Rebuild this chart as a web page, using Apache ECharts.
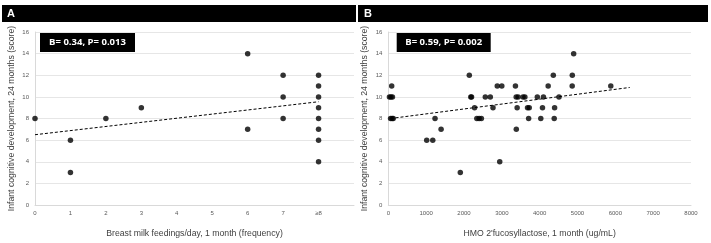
<!DOCTYPE html>
<html>
<head>
<meta charset="utf-8">
<script src="https://cdn.jsdelivr.net/npm/echarts@6/dist/echarts.min.js"></script>
<style>
  html, body { margin: 0; padding: 0; background: #fff; }
  #charts { width: 711px; height: 243px; }
</style>
</head>
<body>
<div id="charts"></div>
<script>
// panel A: feedings/day vs score
var feedX = [0, 1, 1, 2, 3, 6, 6, 7, 7, 7, 8, 8, 8, 8, 8, 8, 8, 8];
var feedY = [8, 6, 3, 8, 9, 14, 7, 12, 10, 8, 12, 11, 10, 9, 8, 7, 6, 4];
var feedTrend = [[0, 6.5], [8, 9.55]];

// panel B: 2'FL concentration vs score
var hmoX = [90, 2880, 3000, 3360, 4225, 4860, 5880,
    30, 70, 110, 2180, 2200, 2564, 2696, 3380, 3430, 3560, 3610, 3938, 4100, 4511,
    2141, 4361, 4863, 4899,
    2280, 2767, 3405, 3680, 3725, 4075, 4395,
    60, 100, 130, 1235, 2340, 2400, 2460, 3709, 4030, 4385,
    1395, 3383, 1015, 1175, 2945, 1903];
var hmoY = [11, 11, 11, 11, 11, 11, 11,
    10, 10, 10, 10, 10, 10, 10, 10, 10, 10, 10, 10, 10, 10,
    12, 12, 12, 14,
    9, 9, 9, 9, 9, 9, 9,
    8, 8, 8, 8, 8, 8, 8, 8, 8, 8,
    7, 7, 6, 6, 4, 3];
var hmoTrend = [[60, 8.0], [6380, 10.87]];

var yName = 'Infant cognitive development, 24 months (score)';

function pairs(xs, ys) {
    return xs.map(function (x, i) { return [x, ys[i]]; });
}

var tickStyle = {color: '#595959', fontSize: 6, fontFamily: 'Liberation Sans'};
var nameStyle = {color: '#404040', fontSize: 8.7, fontFamily: 'Liberation Sans'};
var gridLine = {show: true, lineStyle: {color: '#e6e6e6', width: 1}};
var axisLine = {show: true, lineStyle: {color: '#d9d9d9', width: 1}};

function yAxis(idx) {
    return {
        type: 'value', gridIndex: idx, min: 0, max: 16, interval: 2,
        axisLine: axisLine, axisTick: {show: false}, splitLine: gridLine,
        axisLabel: Object.assign({margin: 6}, tickStyle),
        name: yName, nameLocation: 'middle', nameGap: 19, nameTextStyle: nameStyle
    };
}

var option = {
    animation: false,
    grid: [
        {left: 35, top: 32, width: 319, height: 173.7},
        {left: 388.3, top: 32, width: 302.7, height: 173.7}
    ],
    xAxis: [
        {
            type: 'value', gridIndex: 0, min: 0, max: 9, interval: 1,
            axisLine: axisLine, axisTick: {show: false}, splitLine: {show: false},
            axisLabel: Object.assign({margin: 5, formatter: function (v) {
                if (v === 9) return '';
                return v === 8 ? '≥8' : String(v);
            }}, tickStyle),
            name: 'Breast milk feedings/day, 1 month (frequency)', nameLocation: 'middle',
            nameGap: 24, nameTextStyle: nameStyle
        },
        {
            type: 'value', gridIndex: 1, min: 0, max: 8000, interval: 1000,
            axisLine: axisLine, axisTick: {show: false}, splitLine: {show: false},
            axisLabel: Object.assign({margin: 5, formatter: function (v) { return String(v); }}, tickStyle),
            name: 'HMO 2\'fucosyllactose, 1 month (ug/mL)', nameLocation: 'middle',
            nameGap: 24, nameTextStyle: nameStyle
        }
    ],
    yAxis: [yAxis(0), yAxis(1)],
    series: [
        {
            type: 'scatter', xAxisIndex: 0, yAxisIndex: 0, symbolSize: 5.5,
            itemStyle: {color: '#000'}, data: pairs(feedX, feedY)
        },
        {
            type: 'line', xAxisIndex: 0, yAxisIndex: 0, symbol: 'none',
            lineStyle: {color: '#000', width: 1, type: [3, 2]}, data: feedTrend
        },
        {
            type: 'scatter', xAxisIndex: 1, yAxisIndex: 1, symbolSize: 5.5,
            itemStyle: {color: '#000'}, data: pairs(hmoX, hmoY)
        },
        {
            type: 'line', xAxisIndex: 1, yAxisIndex: 1, symbol: 'none',
            lineStyle: {color: '#000', width: 1, type: [3, 2]}, data: hmoTrend
        }
    ],
    graphic: [
        // header bars
        {type: 'rect', shape: {x: 2, y: 5, width: 354, height: 17}, style: {fill: '#000'}},
        {type: 'rect', shape: {x: 358, y: 5, width: 350, height: 17}, style: {fill: '#000'}},
        {type: 'text', x: 7, y: 13.5, style: {text: 'A', fill: '#fff', font: 'bold 11px Liberation Sans', textVerticalAlign: 'middle'}},
        {type: 'text', x: 364, y: 13.5, style: {text: 'B', fill: '#fff', font: 'bold 11px Liberation Sans', textVerticalAlign: 'middle'}},
        // stats boxes
        {type: 'rect', shape: {x: 40, y: 33, width: 95, height: 19}, style: {fill: '#000'}},
        {type: 'text', x: 87.5, y: 42.5, style: {text: 'B= 0.34, P= 0.013', fill: '#fff', font: 'bold 9.5px Open Sans', textAlign: 'center', textVerticalAlign: 'middle'}},
        {type: 'rect', shape: {x: 396.7, y: 33, width: 94, height: 19}, style: {fill: '#000'}},
        {type: 'text', x: 443.7, y: 42.5, style: {text: 'B= 0.59, P= 0.002', fill: '#fff', font: 'bold 9.5px Open Sans', textAlign: 'center', textVerticalAlign: 'middle'}}
    ]
};

var chart = echarts.init(document.getElementById('charts'));
chart.setOption(option);
</script>
</body>
</html>
